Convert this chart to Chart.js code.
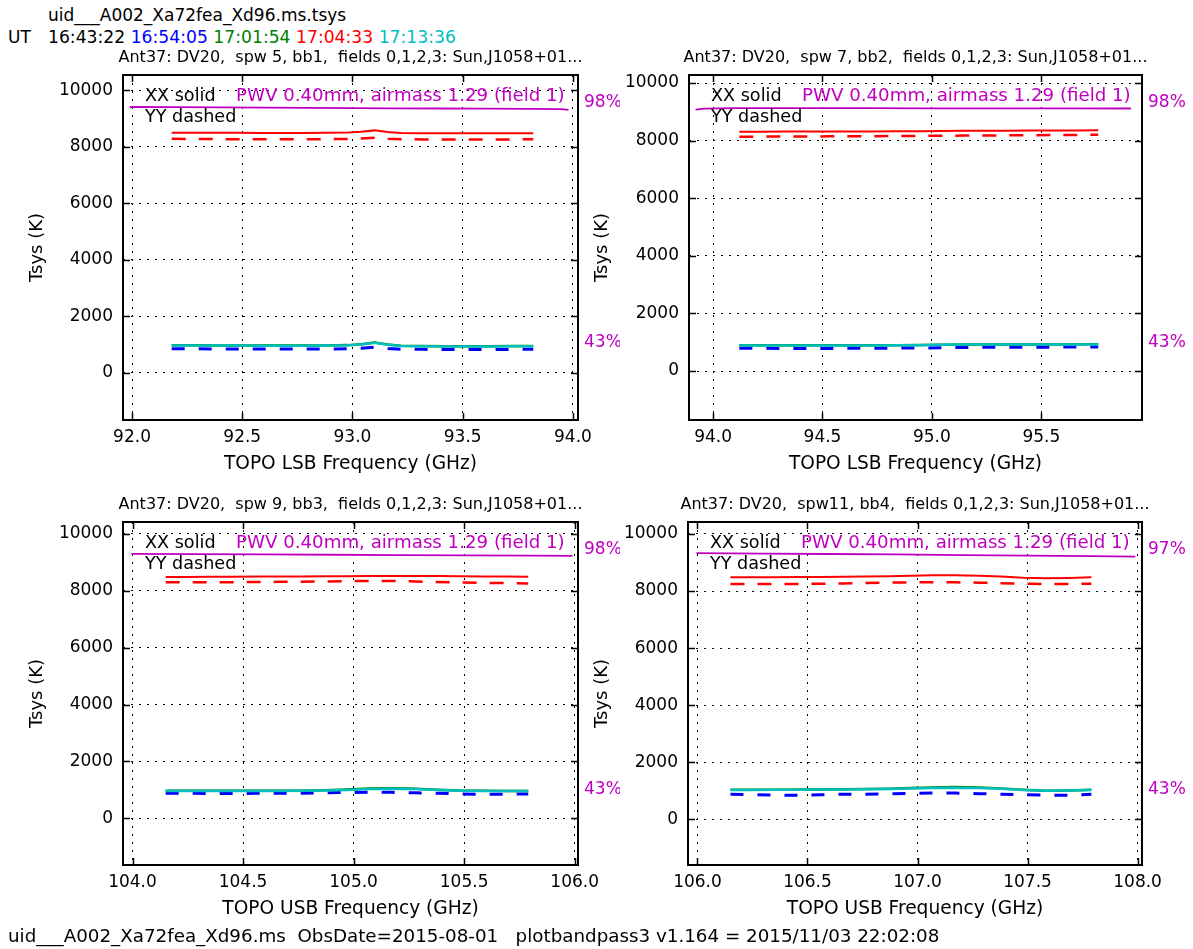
<!DOCTYPE html>
<html>
<head>
<meta charset="utf-8">
<script src="https://cdn.jsdelivr.net/npm/chart.js@4.4.0/dist/chart.umd.min.js"></script>
<style>
  body { margin: 0; background: #fff; font-family: "DejaVu Sans", sans-serif; }
  #page { position: relative; width: 1193px; height: 949px; overflow: hidden; background: #fff; }
  canvas { position: absolute; }
  .txt { position: absolute; font-size: 17px; line-height: 1; white-space: pre; color: #000; }
</style>
</head>
<body>
<div id="page">
  <div class="txt" style="left:48px; top:7px">uid___A002_Xa72fea_Xd96.ms.tsys</div>
  <div class="txt" style="left:8px; top:29px">UT</div>
  <div class="txt" id="utTimes" style="left:48px; top:29px; font-size:17.2px"></div>
  <canvas id="panel1" width="620" height="440" style="left:0px; top:45px"></canvas>
  <canvas id="panel2" width="628" height="440" style="left:565px; top:45px"></canvas>
  <canvas id="panel3" width="620" height="440" style="left:0px; top:492px"></canvas>
  <canvas id="panel4" width="628" height="440" style="left:565px; top:492px"></canvas>
  <div class="txt" style="left:8px; top:927px; font-size:18.3px">uid___A002_Xa72fea_Xd96.ms  ObsDate=2015-08-01   plotbandpass3 v1.164 = 2015/11/03 22:02:08</div>
</div>
<script>
// scan times and their plot colours
const scanTimes = ["16:43:22", "16:54:05", "17:01:54", "17:04:33", "17:13:36"];
const scanColors = ["#000000", "#0000ff", "#008000", "#ff0000", "#00bfbf"];

const yTicks = [0, 2000, 4000, 6000, 8000, 10000];

// spw 5 (bb1)
const spw5Freq = [92.18, 92.28, 92.38, 92.48, 92.58, 92.68, 92.78, 92.88, 92.98, 93.04, 93.10, 93.16, 93.22, 93.32, 93.42, 93.52, 93.62, 93.72, 93.82];
const spw5SunXX = [8500, 8500, 8495, 8495, 8490, 8490, 8490, 8495, 8505, 8530, 8580, 8520, 8490, 8480, 8480, 8475, 8475, 8480, 8480];
const spw5SunYY = [8280, 8275, 8270, 8270, 8265, 8265, 8265, 8270, 8275, 8290, 8320, 8285, 8265, 8260, 8260, 8255, 8255, 8260, 8265];
const spw5GreenXX = [975, 975, 970, 970, 965, 965, 965, 970, 980, 1010, 1075, 1000, 955, 945, 940, 940, 940, 945, 945];
const spw5CyanXX = [970, 970, 965, 965, 960, 960, 960, 965, 975, 1000, 1060, 990, 950, 940, 935, 935, 935, 940, 940];
const spw5BlueYY = [850, 850, 845, 845, 840, 840, 840, 845, 850, 870, 910, 860, 835, 830, 825, 825, 825, 830, 830];
const spw5AtmFreq = [91.99, 92.2, 92.4, 92.6, 92.8, 93.0, 93.2, 93.4, 93.6, 93.8, 93.95, 93.98];
const spw5Atm = [98.0, 97.95, 97.9, 97.85, 97.8, 97.75, 97.7, 97.65, 97.6, 97.55, 97.5, 97.35];

// spw 7 (bb2)
const spw7Freq = [94.12, 94.22, 94.32, 94.43, 94.53, 94.63, 94.73, 94.84, 94.94, 95.04, 95.14, 95.25, 95.35, 95.45, 95.55, 95.66, 95.76];
const spw7SunXX = [8310, 8310, 8315, 8315, 8320, 8320, 8320, 8325, 8330, 8335, 8340, 8345, 8345, 8350, 8355, 8355, 8360];
const spw7SunYY = [8140, 8140, 8145, 8145, 8150, 8150, 8155, 8160, 8165, 8170, 8175, 8180, 8185, 8190, 8195, 8200, 8205];
const spw7GreenXX = [895, 895, 895, 895, 895, 895, 895, 900, 905, 915, 925, 925, 925, 925, 925, 930, 930];
const spw7CyanXX = [890, 890, 890, 890, 890, 890, 890, 895, 900, 910, 920, 920, 920, 920, 920, 925, 925];
const spw7BlueYY = [790, 790, 785, 785, 785, 790, 790, 795, 800, 810, 820, 825, 825, 830, 830, 835, 835];
const spw7AtmFreq = [93.92, 93.96, 94.1, 94.4, 94.7, 95.0, 95.3, 95.6, 95.91];
const spw7Atm = [97.4, 97.6, 97.75, 97.75, 97.75, 97.7, 97.7, 97.7, 97.65];

// spw 9 (bb3)
const spw9Freq = [104.15, 104.25, 104.35, 104.46, 104.56, 104.66, 104.76, 104.87, 104.97, 105.07, 105.17, 105.28, 105.38, 105.48, 105.58, 105.69, 105.79];
const spw9SunXX = [8490, 8490, 8495, 8495, 8500, 8500, 8505, 8510, 8515, 8520, 8525, 8525, 8520, 8515, 8505, 8500, 8495];
const spw9SunYY = [8300, 8300, 8305, 8305, 8310, 8315, 8320, 8330, 8340, 8350, 8345, 8330, 8310, 8295, 8280, 8270, 8260];
const spw9GreenXX = [970, 970, 970, 970, 970, 970, 975, 990, 1015, 1050, 1060, 1045, 1010, 980, 970, 965, 965];
const spw9CyanXX = [965, 965, 965, 965, 965, 965, 970, 980, 1000, 1030, 1040, 1030, 1000, 975, 965, 960, 960];
const spw9BlueYY = [880, 880, 875, 875, 880, 880, 885, 895, 910, 920, 915, 900, 880, 860, 845, 845, 860];
const spw9AtmFreq = [103.995, 104.3, 104.6, 104.9, 105.2, 105.5, 105.8, 105.99];
const spw9Atm = [98.0, 97.93, 97.85, 97.78, 97.7, 97.63, 97.56, 97.5];

// spw 11 (bb4)
const spw11Freq = [106.15, 106.25, 106.35, 106.46, 106.56, 106.66, 106.76, 106.87, 106.97, 107.07, 107.17, 107.28, 107.38, 107.48, 107.58, 107.69, 107.79];
const spw11SunXX = [8480, 8480, 8485, 8490, 8495, 8500, 8510, 8520, 8535, 8550, 8555, 8540, 8510, 8470, 8450, 8460, 8480];
const spw11SunYY = [8245, 8245, 8250, 8250, 8255, 8265, 8280, 8295, 8305, 8310, 8305, 8295, 8275, 8255, 8245, 8250, 8255];
const spw11GreenXX = [1035, 1035, 1040, 1045, 1050, 1055, 1060, 1075, 1095, 1120, 1130, 1115, 1080, 1035, 1005, 1015, 1035];
const spw11CyanXX = [1030, 1030, 1035, 1040, 1045, 1050, 1055, 1065, 1080, 1100, 1110, 1100, 1070, 1030, 1000, 1010, 1030];
const spw11BlueYY = [880, 870, 850, 840, 860, 880, 880, 890, 910, 920, 920, 900, 880, 860, 850, 845, 880];
const spw11AtmFreq = [105.995, 106.3, 106.6, 106.9, 107.2, 107.5, 107.8, 107.99];
const spw11Atm = [97.45, 97.35, 97.25, 97.15, 97.0, 96.9, 96.75, 96.65];

const panels = [
  { id: "panel1", title: "Ant37: DV20,  spw 5, bb1,  fields 0,1,2,3: Sun,J1058+01...", xLabel: "TOPO LSB Frequency (GHz)",
    xTicks: [92.0, 92.5, 93.0, 93.5, 94.0], xMin: 91.959, xMax: 94.023, yMin: -1670, yMax: 10540,
    atmMin: 25.6, atmMax: 105.4, atmTop: "98%", atmBottom: "43%",
    freq: spw5Freq, sunXX: spw5SunXX, sunYY: spw5SunYY, greenXX: spw5GreenXX, cyanXX: spw5CyanXX, blueYY: spw5BlueYY,
    atmFreq: spw5AtmFreq, atm: spw5Atm,
    pad: { left: 0, top: 30, right: 42, bottom: 0 }, yWidth: 123, xHeight: 65, xTitlePad: 10 },
  { id: "panel2", title: "Ant37: DV20,  spw 7, bb2,  fields 0,1,2,3: Sun,J1058+01...", xLabel: "TOPO LSB Frequency (GHz)",
    xTicks: [94.0, 94.5, 95.0, 95.5], xMin: 93.89, xMax: 95.96, yMin: -1700, yMax: 10280,
    atmMin: 25.6, atmMax: 105.4, atmTop: "98%", atmBottom: "43%",
    freq: spw7Freq, sunXX: spw7SunXX, sunYY: spw7SunYY, greenXX: spw7GreenXX, cyanXX: spw7CyanXX, blueYY: spw7BlueYY,
    atmFreq: spw7AtmFreq, atm: spw7Atm,
    pad: { left: 0, top: 30, right: 51, bottom: 0 }, yWidth: 124, xHeight: 65, xTitlePad: 10 },
  { id: "panel3", title: "Ant37: DV20,  spw 9, bb3,  fields 0,1,2,3: Sun,J1058+01...", xLabel: "TOPO USB Frequency (GHz)",
    xTicks: [104.0, 104.5, 105.0, 105.5, 106.0], xMin: 103.957, xMax: 106.015, yMin: -1640, yMax: 10420,
    atmMin: 25.6, atmMax: 105.4, atmTop: "98%", atmBottom: "43%",
    freq: spw9Freq, sunXX: spw9SunXX, sunYY: spw9SunYY, greenXX: spw9GreenXX, cyanXX: spw9CyanXX, blueYY: spw9BlueYY,
    atmFreq: spw9AtmFreq, atm: spw9Atm,
    pad: { left: 0, top: 30, right: 42, bottom: 0 }, yWidth: 123, xHeight: 67, xTitlePad: 12 },
  { id: "panel4", title: "Ant37: DV20,  spw11, bb4,  fields 0,1,2,3: Sun,J1058+01...", xLabel: "TOPO USB Frequency (GHz)",
    xTicks: [106.0, 106.5, 107.0, 107.5, 108.0], xMin: 105.957, xMax: 108.02, yMin: -1600, yMax: 10420,
    atmMin: 24.9, atmMax: 104.7, atmTop: "97%", atmBottom: "43%",
    freq: spw11Freq, sunXX: spw11SunXX, sunYY: spw11SunYY, greenXX: spw11GreenXX, cyanXX: spw11CyanXX, blueYY: spw11BlueYY,
    atmFreq: spw11AtmFreq, atm: spw11Atm,
    pad: { left: 0, top: 30, right: 51, bottom: 0 }, yWidth: 123, xHeight: 67, xTitlePad: 12 }
];

const FONT = '"DejaVu Sans", sans-serif';
const MAGENTA = "#bf00bf";

// coloured UT list in the header
document.getElementById("utTimes").innerHTML = scanTimes
  .map((t, i) => `<span style="color:${scanColors[i]}">${t}</span>`).join(" ");

function pairs(xs, ys) {
  return xs.map((x, i) => ({ x: x, y: ys[i] }));
}

function series(xs, ys, color, width, dash, axis) {
  return {
    data: pairs(xs, ys),
    borderColor: color,
    borderWidth: width,
    borderDash: dash || [],
    yAxisID: axis || "y",
    pointRadius: 0,
    tension: 0,
    fill: false
  };
}

// frame, inward ticks, panel title and annotations
const decorations = {
  id: "decorations",
  afterDraw(chart, args, opts) {
    const p = opts.panel;
    const ctx = chart.ctx;
    const { left, right, top, bottom } = chart.chartArea;
    const xs = chart.scales.x, ys = chart.scales.y;
    ctx.save();
    ctx.strokeStyle = "#000";
    ctx.lineWidth = 1.5;
    ctx.beginPath();
    p.xTicks.forEach(v => {
      const px = Math.round(xs.getPixelForValue(v)) + 0.5;
      ctx.moveTo(px, bottom); ctx.lineTo(px, bottom - 7);
      ctx.moveTo(px, top); ctx.lineTo(px, top + 7);
    });
    yTicks.forEach(v => {
      const py = Math.round(ys.getPixelForValue(v)) + 0.5;
      ctx.moveTo(left, py); ctx.lineTo(left + 7, py);
      ctx.moveTo(right, py); ctx.lineTo(right - 7, py);
    });
    ctx.stroke();
    ctx.lineWidth = 2;
    ctx.strokeRect(left, top, right - left, bottom - top);

    ctx.textBaseline = "middle";
    ctx.fillStyle = "#000";
    ctx.textAlign = "center";
    ctx.font = "16px " + FONT;
    ctx.fillText(p.title, (left + right) / 2, top - 17);

    ctx.textAlign = "left";
    ctx.font = "17.6px " + FONT;
    ctx.fillText("XX solid", left + 22, top + 21);
    ctx.fillText("YY dashed", left + 22, top + 42);
    ctx.fillStyle = MAGENTA;
    ctx.font = "18.2px " + FONT;
    ctx.fillText("PWV 0.40mm, airmass 1.29 (field 1)", left + 113, top + 21);
    ctx.font = "17px " + FONT;
    ctx.fillText(p.atmTop, right + 6, top + 28);
    ctx.fillText(p.atmBottom, right + 6, top + 268);
    ctx.restore();
  }
};

panels.forEach(p => {
  const datasets = [
    series(p.freq, p.cyanXX, scanColors[4], 2.5),
    series(p.freq, p.greenXX, scanColors[2], 2.5),
    series(p.freq, p.blueYY, scanColors[1], 3, [13, 14]),
    series(p.freq, p.sunXX, scanColors[3], 2),
    series(p.freq, p.sunYY, scanColors[3], 2.5, [14, 13]),
    series(p.atmFreq, p.atm, MAGENTA, 1.8, [], "y2")
  ];

  new Chart(document.getElementById(p.id), {
    type: "line",
    data: { datasets: datasets },
    plugins: [decorations],
    options: {
      responsive: false,
      animation: false,
      devicePixelRatio: 1,
      layout: { padding: p.pad },
      plugins: {
        legend: { display: false },
        tooltip: { enabled: false },
        decorations: { panel: p }
      },
      scales: {
        x: {
          type: "linear",
          min: p.xMin,
          max: p.xMax,
          afterBuildTicks: s => { s.ticks = p.xTicks.map(v => ({ value: v })); },
          afterFit: s => { s.height = p.xHeight; },
          grid: { color: "#000", lineWidth: 1, drawTicks: false },
          border: { display: false, dash: [2, 6] },
          ticks: {
            color: "#000",
            padding: 7,
            maxRotation: 0,
            font: { family: FONT, size: 17 },
            callback: v => Number(v).toFixed(1)
          },
          title: {
            display: true,
            text: p.xLabel,
            color: "#000",
            font: { family: FONT, size: 18.6 },
            padding: { top: 0, bottom: p.xTitlePad }
          }
        },
        y: {
          type: "linear",
          position: "left",
          min: p.yMin,
          max: p.yMax,
          afterBuildTicks: s => { s.ticks = yTicks.map(v => ({ value: v })); },
          afterFit: s => { s.width = p.yWidth; },
          grid: { color: "#000", lineWidth: 1, drawTicks: false },
          border: { display: false, dash: [2, 6] },
          ticks: {
            color: "#000",
            padding: 10,
            font: { family: FONT, size: 17 },
            callback: v => String(v)
          },
          title: {
            display: true,
            text: "Tsys (K)",
            color: "#000",
            font: { family: FONT, size: 18 },
            padding: { top: 27, bottom: 0 }
          }
        },
        y2: {
          type: "linear",
          position: "right",
          display: false,
          min: p.atmMin,
          max: p.atmMax
        }
      }
    }
  });
});
</script>
</body>
</html>
